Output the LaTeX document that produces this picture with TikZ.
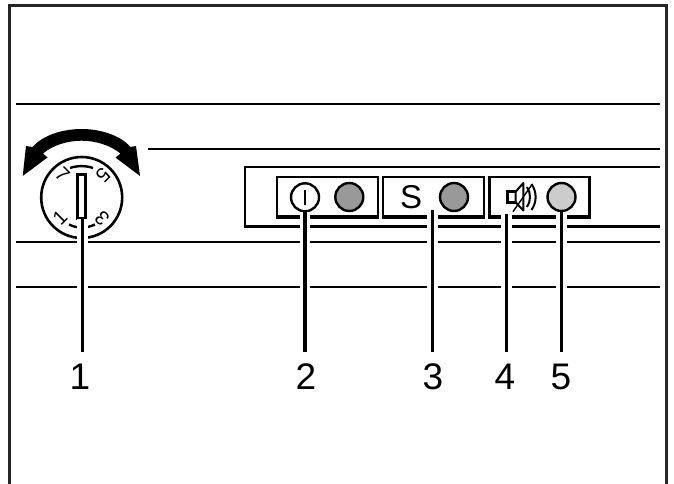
\documentclass[tikz,border=0pt]{standalone}
\usepackage{fontspec}
\setmainfont{Liberation Sans}
\tikzset{
  x=1pt,y=-1pt,
  rule/.style={line width=2.2pt,black},
  knob/.style={draw=black,line width=2.6pt},
  leader/.style={line width=3.2pt,black,preaction={draw=white,line width=10.5pt}},
  callout/.style={font=\fontsize{37}{37}\selectfont,inner sep=11pt,text height=26pt,text depth=0pt},
  dialnum/.style={font=\fontsize{20}{20}\selectfont,inner sep=0pt},
  lamp/.style={circle,draw=black,line width=2.4pt,minimum size=28pt,inner sep=0pt},
  tag/.style={font=\fontsize{33}{33}\selectfont,inner sep=0pt}
}
\begin{document}
\begin{tikzpicture}
\useasboundingbox (0,0) rectangle (674,484);
% frame
\draw[line width=2.6pt,black!85] (9.5,484) -- (9.5,5.5) -- (666.5,5.5) -- (666.5,484);
% horizontal rules
\draw[rule] (16,104) -- (660,104);
\draw[rule] (148,149) -- (660,149);
\draw[rule] (16,242) -- (660,242);
\draw[rule] (16,287) -- (660,287);
% panel
\draw[line width=2.4pt] (660,167) -- (245,167) -- (245,226.5) -- (660,226.5);
% button boxes
\foreach \a/\b in {277/378,383/484,489.5/589.5}{
  \draw[line width=2.4pt] (\a,217.5) -- (\a,177) -- (\b,177) -- (\b,217.5);
  \draw[line width=3.4pt] (\a-1.2,217) -- (\b+1.2,217);
}
% dial
\node[circle,knob,minimum size=81pt,inner sep=0pt] (dial) at (81.7,197.5) {};
\draw[line width=2.4pt] (70,168) .. controls (77,165.5) and (86,165.5) .. (93,168);
\draw[line width=2.4pt] (69,224.5) .. controls (73,226.5) and (77,227.5) .. (82,227.5);
\draw[line width=2.4pt] (82,227.5) .. controls (86,227.5) and (91,226.5) .. (95,224.5);
\node[dialnum,rotate=-45] (d7) at (62.5,175) {7};
\node[dialnum,rotate=-135] (d5) at (103,175) {5};
\node[dialnum,rotate=-225] (d3) at (102,218) {3};
\node[dialnum,rotate=45] (d1) at (60,218) {1};
% double arrow
\fill[black] (22.7,176) -- (26,146) -- (32.5,147)
  .. controls (44,134) and (65,129) .. (81.7,129)
  .. controls (98,129) and (119,134) .. (130.5,147)
  -- (136,146) -- (140,176) -- (115.5,157.5) -- (120.5,153.5)
  .. controls (110,145) and (95,140.7) .. (81.7,140.7)
  .. controls (68,140.7) and (53,145) .. (43,153.5)
  -- (47.5,157.5) -- cycle;
% slot
\node[draw=black,line width=2.4pt,fill=white,minimum width=8pt,minimum height=44pt,inner sep=0pt] (slot) at (81.3,196.5) {};
% lamps
\node[lamp] (on) at (305,197.3) {};
\draw[line width=2.4pt] (305,190) -- (305,205);
\node[lamp,fill=black!40] (lamp1) at (349.3,197) {};
\node[tag] (s) at (411,197) {S};
\node[lamp,fill=black!40] (lamp2) at (454,197) {};
\node[lamp,fill=black!20] (lamp3) at (561.5,197) {};
% speaker
\draw[line width=2.6pt] (515.7,191.7) -- (507.7,191.7) -- (507.7,202.3) -- (515.7,202.3);
\draw[line width=2pt,line join=round] (515.7,191.7) -- (523.3,183) -- (523.3,210.5) -- (515.7,202.3) -- cycle;
\draw[line width=2pt] (527,187) .. controls (531,193) and (531,201) .. (527,207);
\draw[line width=2pt] (531.5,184) .. controls (537,192) and (537,202) .. (531.5,210);
\draw[line width=1.4pt] (532,184.5) -- (513,211.7);
% callout labels
\node[callout] (lab1) at (80,376) {1};
\node[callout] (lab2) at (306,376) {2};
\node[callout] (lab3) at (433,376) {3};
\node[callout] (lab4) at (505,376) {4};
\node[callout] (lab5) at (561,376) {5};
% leaders
\coordinate (t1) at (82.7,219);
\coordinate (t2) at (305,211.5);
\coordinate (t3) at (432.7,210);
\coordinate (t4) at (506.7,214);
\coordinate (t5) at (561.7,211.5);
\draw[leader] (t1) -- (t1 |- lab1.north);
\draw[leader] (t2) -- (t2 |- lab2.north);
\draw[leader] (t3) -- (t3 |- lab3.north);
\draw[leader] (t4) -- (t4 |- lab4.north);
\draw[leader] (t5) -- (t5 |- lab5.north);
\end{tikzpicture}
\end{document}
